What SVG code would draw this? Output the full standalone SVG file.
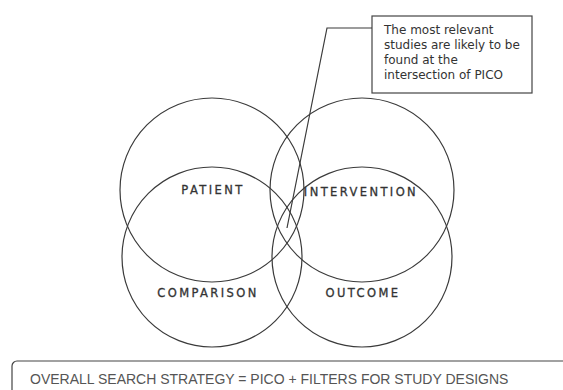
<svg xmlns="http://www.w3.org/2000/svg" width="563" height="390" viewBox="0 0 563 390">
<style>
.c{fill:none;stroke:#3a3a3a;stroke-width:1.2}
.lbl{font-family:"DejaVu Sans","Liberation Sans",sans-serif;font-size:11.5px;fill:#333;text-anchor:middle;letter-spacing:2.4px;stroke:#333;stroke-width:0.3}
.note{font-family:"DejaVu Sans","Liberation Sans",sans-serif;font-size:12px;fill:#333}
.box{fill:none;stroke:#444;stroke-width:1.2}
.foot{font-family:"Liberation Sans",Arial,sans-serif;font-size:14px;fill:#555}
</style>
<rect width="563" height="390" fill="#ffffff"/>
<g id="patient"><circle class="c" cx="212" cy="190" r="92"/><text class="lbl" x="213" y="194">PATIENT</text></g>
<g id="intervention"><circle class="c" cx="362" cy="190" r="92"/><text class="lbl" x="361" y="196">INTERVENTION</text></g>
<g id="comparison"><circle class="c" cx="212" cy="257" r="90"/><text class="lbl" x="208" y="297">COMPARISON</text></g>
<g id="outcome"><circle class="c" cx="362" cy="257" r="90"/><text class="lbl" x="363" y="297">OUTCOME</text></g>
<g id="note"><rect class="box" x="372" y="16" width="160" height="77"/>
<text class="note" x="384" y="34">The most relevant</text>
<text class="note" x="384" y="49">studies are likely to be</text>
<text class="note" x="384" y="64">found at the</text>
<text class="note" x="384" y="79">intersection of PICO</text></g>
<g id="connectors"><polyline class="c" points="372,28 327,28 287,228"/></g>
<g id="strategy"><rect class="box" x="12" y="361" width="570" height="60" rx="5"/>
<text class="foot" x="30" y="384">OVERALL SEARCH STRATEGY = PICO + FILTERS FOR STUDY DESIGNS</text></g>
</svg>
